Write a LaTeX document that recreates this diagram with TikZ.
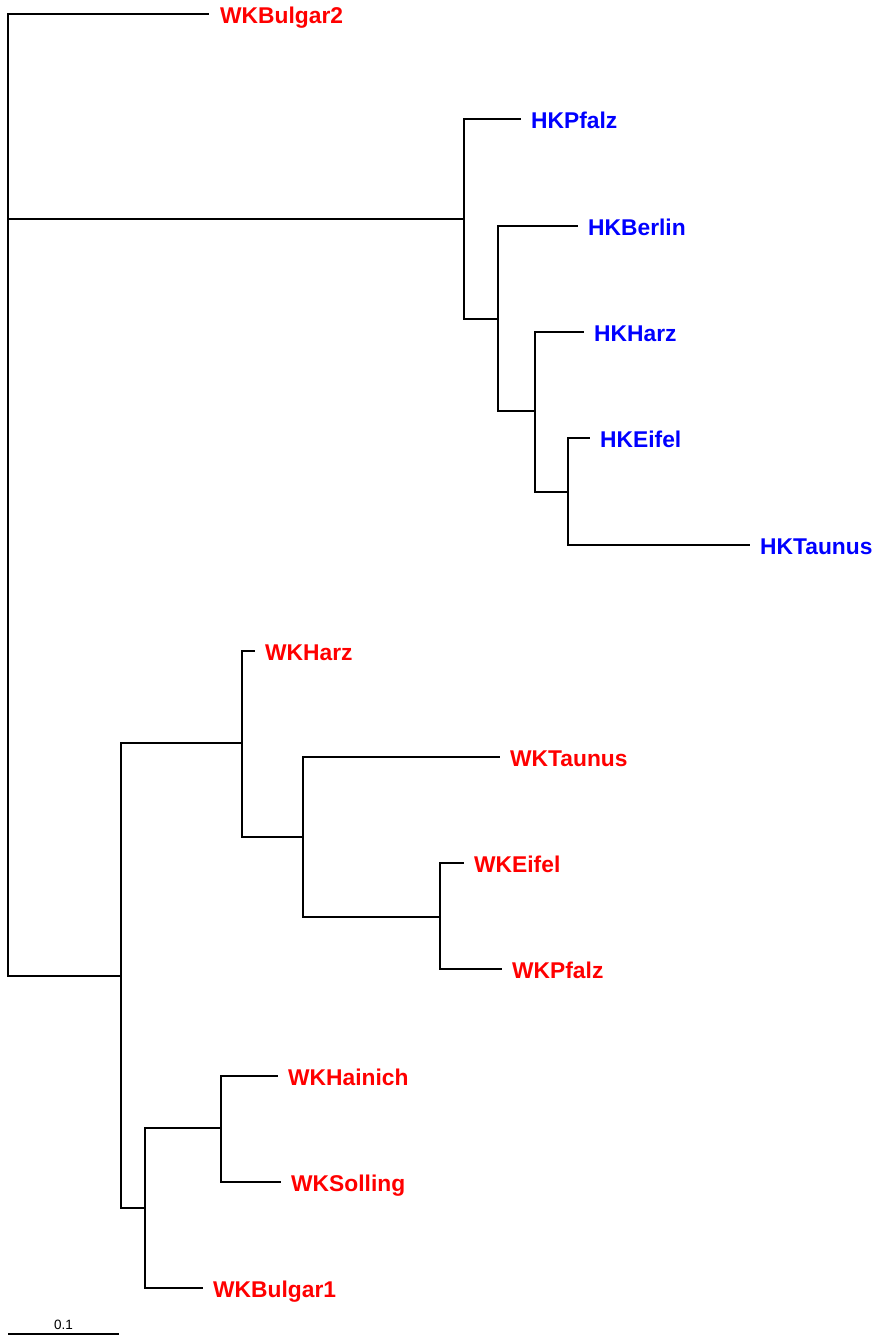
\documentclass[tikz,border=0pt]{standalone}
\usepackage{fontspec}
\setmainfont{Liberation Sans}
\definecolor{wkred}{RGB}{255,0,0}
\definecolor{hkblue}{RGB}{0,0,255}
\tikzset{
  edge/.style={draw=black, line width=2pt, line cap=rect},
  lab/.style={anchor=base west, inner sep=0pt, font=\fontsize{22.8}{24}\selectfont\bfseries},
  wk/.style={lab, text=wkred},
  hk/.style={lab, text=hkblue},
  scalelab/.style={anchor=base, inner sep=0pt, font=\fontsize{13.5}{15}\selectfont}
}
\begin{document}
\begin{tikzpicture}[x=1pt,y=-1pt]
\useasboundingbox (0,0) rectangle (874,1338);
% internal nodes
\coordinate (root) at (8,219);
\coordinate (h1) at (464,219);
\coordinate (h2) at (498,319);
\coordinate (h3) at (535,411);
\coordinate (h4) at (568,492);
\coordinate (w1) at (121,976);
\coordinate (w2) at (242,743);
\coordinate (w3) at (303,837);
\coordinate (w4) at (440,917);
\coordinate (w5) at (145,1208);
\coordinate (w6) at (221,1128);
% tips
\coordinate (tWKBulgar2) at (208,14);
\coordinate (tHKPfalz) at (520,119);
\coordinate (tHKBerlin) at (577,226);
\coordinate (tHKHarz) at (583,332);
\coordinate (tHKEifel) at (589,438);
\coordinate (tHKTaunus) at (749,545);
\coordinate (tWKHarz) at (254,651);
\coordinate (tWKTaunus) at (499,757);
\coordinate (tWKEifel) at (463,863);
\coordinate (tWKPfalz) at (501,969);
\coordinate (tWKHainich) at (277,1076);
\coordinate (tWKSolling) at (280,1182);
\coordinate (tWKBulgar1) at (202,1288);
% labels
\node[wk] (lWKBulgar2) at ([xshift=12pt,yshift=-9.5pt]tWKBulgar2) {WKBulgar2};
\node[hk] (lHKPfalz) at ([xshift=11pt,yshift=-9.5pt]tHKPfalz) {HKPfalz};
\node[hk] (lHKBerlin) at ([xshift=11pt,yshift=-9.5pt]tHKBerlin) {HKBerlin};
\node[hk] (lHKHarz) at ([xshift=11pt,yshift=-9.5pt]tHKHarz) {HKHarz};
\node[hk] (lHKEifel) at ([xshift=11pt,yshift=-9.5pt]tHKEifel) {HKEifel};
\node[hk] (lHKTaunus) at ([xshift=11pt,yshift=-9.5pt]tHKTaunus) {HKTaunus};
\node[wk] (lWKHarz) at ([xshift=11pt,yshift=-9.5pt]tWKHarz) {WKHarz};
\node[wk] (lWKTaunus) at ([xshift=11pt,yshift=-9.5pt]tWKTaunus) {WKTaunus};
\node[wk] (lWKEifel) at ([xshift=11pt,yshift=-9.5pt]tWKEifel) {WKEifel};
\node[wk] (lWKPfalz) at ([xshift=11pt,yshift=-9.5pt]tWKPfalz) {WKPfalz};
\node[wk] (lWKHainich) at ([xshift=11pt,yshift=-9.5pt]tWKHainich) {WKHainich};
\node[wk] (lWKSolling) at ([xshift=11pt,yshift=-9.5pt]tWKSolling) {WKSolling};
\node[wk] (lWKBulgar1) at ([xshift=11pt,yshift=-9.5pt]tWKBulgar1) {WKBulgar1};
% edges
\draw[edge] (root) |- (tWKBulgar2);
\draw[edge] (root) -- (h1);
\draw[edge] (root) |- (w1);
\draw[edge] (h1) |- (tHKPfalz);
\draw[edge] (h1) |- (h2);
\draw[edge] (h2) |- (tHKBerlin);
\draw[edge] (h2) |- (h3);
\draw[edge] (h3) |- (tHKHarz);
\draw[edge] (h3) |- (h4);
\draw[edge] (h4) |- (tHKEifel);
\draw[edge] (h4) |- (tHKTaunus);
\draw[edge] (w1) |- (w2);
\draw[edge] (w1) |- (w5);
\draw[edge] (w2) |- (tWKHarz);
\draw[edge] (w2) |- (w3);
\draw[edge] (w3) |- (tWKTaunus);
\draw[edge] (w3) |- (w4);
\draw[edge] (w4) |- (tWKEifel);
\draw[edge] (w4) |- (tWKPfalz);
\draw[edge] (w5) |- (w6);
\draw[edge] (w5) |- (tWKBulgar1);
\draw[edge] (w6) |- (tWKHainich);
\draw[edge] (w6) |- (tWKSolling);
% scale bar
\coordinate (sbL) at (8,1334);
\coordinate (sbR) at (119,1334);
\draw[edge, line cap=butt] (sbL) -- (sbR);
\node[scalelab] (sblab) at (63.5,1329.5) {0.1};
\end{tikzpicture}
\end{document}
